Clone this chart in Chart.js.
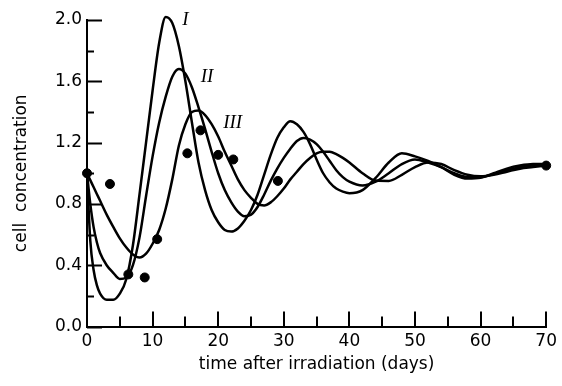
<!DOCTYPE html>
<html>
<head>
<meta charset="utf-8">
<title>cell concentration</title>
<script src="https://cdn.jsdelivr.net/npm/chart.js@4.4.1/dist/chart.umd.min.js"></script>
<style>
  body { margin: 0; background: #fff; }
  #plot { width: 562px; height: 386px; }
</style>
</head>
<body>
<div id="plot"><canvas id="chart" width="562" height="386"></canvas></div>
<script>
// days at which the model curves are sampled
var days = [0, 0.5, 1, 1.5, 2,
    3, 4, 5, 6, 7, 8, 9, 10,
    11, 12, 13, 14, 15, 16, 17, 18, 19, 20,
    21, 22, 23, 24, 25, 26, 27, 28, 29, 30,
    31, 32, 33, 34, 35, 36, 37, 38, 39, 40,
    42, 44, 46, 48, 50, 52, 54, 56, 58, 60, 62, 64, 66, 68, 70];

var curveI = [1.00, 0.56, 0.37, 0.27, 0.215,
    0.175, 0.175, 0.215, 0.31, 0.53, 0.86, 1.20, 1.54,
    1.85, 2.02, 1.98, 1.83, 1.60, 1.33, 1.07, 0.89, 0.76, 0.68,
    0.63, 0.62, 0.64, 0.69, 0.76, 0.86, 0.99, 1.12, 1.23, 1.30,
    1.34, 1.32, 1.27, 1.19, 1.09, 1.00, 0.94, 0.90, 0.88, 0.87,
    0.89, 0.97, 1.07, 1.13, 1.11, 1.08, 1.04, 0.99, 0.965, 0.97, 1.00, 1.03, 1.05, 1.06, 1.06];

var curveII = [1.00, 0.80, 0.65, 0.55, 0.48,
    0.40, 0.35, 0.31, 0.32, 0.40, 0.58, 0.85, 1.11,
    1.33, 1.50, 1.63, 1.68, 1.65, 1.56, 1.43, 1.29, 1.14, 1.00,
    0.89, 0.81, 0.75, 0.72, 0.73, 0.78, 0.86, 0.95, 1.03, 1.10,
    1.16, 1.21, 1.23, 1.22, 1.19, 1.14, 1.08, 1.02, 0.975, 0.945,
    0.92, 0.945, 1.00, 1.06, 1.09, 1.07, 1.04, 1.00, 0.975, 0.975, 0.995, 1.02, 1.04, 1.05, 1.05];

var curveIII = [1.00, 0.955, 0.91, 0.865, 0.82,
    0.73, 0.65, 0.575, 0.515, 0.47, 0.45, 0.475, 0.54,
    0.63, 0.77, 0.96, 1.18, 1.32, 1.40, 1.41, 1.38, 1.32, 1.24,
    1.14, 1.05, 0.96, 0.89, 0.84, 0.80, 0.79, 0.81, 0.85, 0.90,
    0.96, 1.01, 1.06, 1.10, 1.13, 1.14, 1.14, 1.125, 1.10, 1.07,
    1.00, 0.952, 0.95, 0.99, 1.04, 1.07, 1.06, 1.02, 0.99, 0.98, 0.99, 1.01, 1.03, 1.04, 1.05];

// measured cell concentrations
var obsDays  = [0, 3.5, 6.3, 8.8, 10.7, 15.3, 17.3, 20.0, 22.3, 29.1, 70];
var obsLevel = [1.00, 0.93, 0.34, 0.32, 0.57, 1.13, 1.28, 1.12, 1.09, 0.95, 1.05];

// tick marks (every other one carries a label)
var xTicks = [0, 5, 10, 15, 20, 25, 30, 35, 40, 45, 50, 55, 60, 65, 70];
var yTicks = [0, 0.2, 0.4, 0.6, 0.8, 1.0, 1.2, 1.4, 1.6, 1.8, 2.0];

// curve names and where they sit (day, level)
var curveNames = ["I", "II", "III"];
var nameDay    = [15.0, 18.3, 22.2];
var nameLevel  = [2.0, 1.63, 1.33];

var FONT = "'DejaVu Sans', sans-serif";

function toPoints(xs, ys) {
    return xs.map(function(x, i) { return {x: x, y: ys[i]}; });
}

function curveSet(values) {
    return {
        type: "line",
        data: toPoints(days, values),
        borderColor: "#000",
        borderWidth: 2.5,
        pointRadius: 0,
        fill: false,
        clip: false,
        cubicInterpolationMode: "monotone"
    };
}

// ticks point inward from the axes, long ones at labelled values
var inwardTicks = {
    id: "inwardTicks",
    afterDraw: function(chart) {
        var ctx = chart.ctx;
        var xs = chart.scales.x, ys = chart.scales.y;
        var area = chart.chartArea;
        ctx.save();
        ctx.strokeStyle = "#000";
        ctx.lineWidth = 2;
        ctx.lineCap = "butt";
        ctx.beginPath();
        yTicks.forEach(function(v, i) {
            var py = Math.round(ys.getPixelForValue(v)) + 0.5;
            var len = (i % 2 == 0) ? 15 : 7;
            ctx.moveTo(area.left, py);
            ctx.lineTo(area.left + len, py);
        });
        xTicks.forEach(function(v, i) {
            var px = Math.round(xs.getPixelForValue(v));
            var len = (i % 2 == 0) ? 15 : 10;
            ctx.moveTo(px, area.bottom);
            ctx.lineTo(px, area.bottom - len);
        });
        ctx.stroke();

        // roman numerals next to each curve
        ctx.fillStyle = "#000";
        ctx.font = "italic 19px 'Liberation Serif', 'DejaVu Serif', serif";
        ctx.textAlign = "center";
        ctx.textBaseline = "middle";
        curveNames.forEach(function(name, i) {
            ctx.fillText(name, xs.getPixelForValue(nameDay[i]), ys.getPixelForValue(nameLevel[i]));
        });
        ctx.restore();
    }
};

new Chart(document.getElementById("chart"), {
    data: {
        datasets: [
            curveSet(curveI),
            curveSet(curveII),
            curveSet(curveIII),
            {
                type: "scatter",
                data: toPoints(obsDays, obsLevel),
                backgroundColor: "#000",
                borderColor: "#000",
                pointRadius: 4.5,
                pointHoverRadius: 4.5,
                clip: false
            }
        ]
    },
    options: {
        responsive: false,
        animation: false,
        events: [],
        layout: {padding: {top: 20, right: 13, bottom: 0, left: 0}},
        plugins: {legend: {display: false}, tooltip: {enabled: false}},
        scales: {
            x: {
                type: "linear",
                min: 0,
                max: 70,
                grid: {display: false, drawTicks: false},
                border: {display: true, color: "#000", width: 2},
                ticks: {stepSize: 10, padding: 5, color: "#000", font: {family: FONT, size: 17}},
                title: {
                    display: true,
                    text: "time after irradiation (days)",
                    color: "#000",
                    font: {family: FONT, size: 17, lineHeight: 1.2},
                    padding: {top: 0, bottom: 11}
                },
                afterFit: function(scale) { scale.height = 59.5; }
            },
            y: {
                type: "linear",
                min: 0,
                max: 2.0,
                grid: {display: false, drawTicks: false},
                border: {display: true, color: "#000", width: 2},
                ticks: {
                    stepSize: 0.4,
                    padding: 5,
                    color: "#000",
                    font: {family: FONT, size: 17},
                    callback: function(v) { return v.toFixed(1); }
                },
                title: {
                    display: true,
                    text: "cell  concentration",
                    color: "#000",
                    font: {family: FONT, size: 17, lineHeight: 1.2},
                    padding: {top: 11, bottom: 0}
                },
                afterFit: function(scale) { scale.width = 87; }
            }
        }
    },
    plugins: [inwardTicks]
});
</script>
</body>
</html>
